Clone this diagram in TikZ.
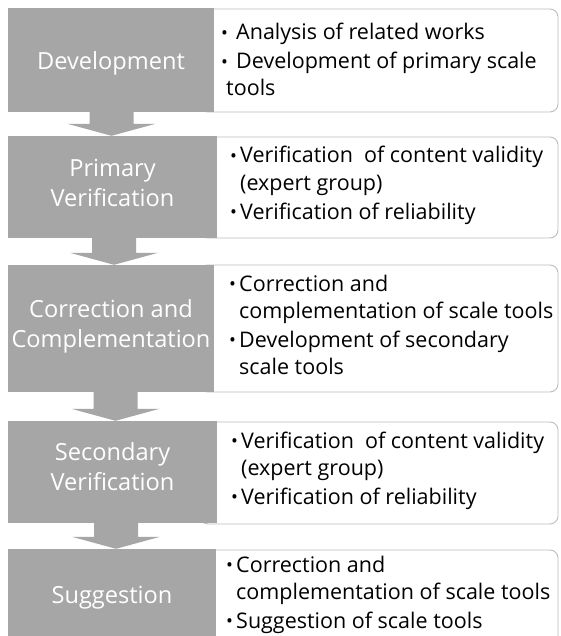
\documentclass[tikz,border=0pt]{standalone}
\usepackage{fontspec}
\setmainfont{Open Sans}
\usetikzlibrary{calc}
\definecolor{boxgray}{HTML}{A6A6A6}
\definecolor{edgegray}{HTML}{BDBDBD}
\newcommand\bul{\makebox[15pt][l]{\raisebox{0.5pt}{\scalebox{0.85}{•}}}}
\newcommand\bulw{\makebox[10pt][l]{\raisebox{0.5pt}{\scalebox{0.85}{•}}}}
% block arrow from box #1 to box #2, x offset #3
\newcommand\blockarrow[3]{%
  \fill[boxgray] let \p1=(#1.south), \p2=(#2.north) in
    (\x1+#3pt-22pt,\y1) -- (\x1+#3pt-22pt,\y2+12pt) -- (\x1+#3pt-44pt,\y2+12pt)
    -- (\x1+#3pt,\y2) -- (\x1+#3pt+44pt,\y2+12pt) -- (\x1+#3pt+22pt,\y2+12pt)
    -- (\x1+#3pt+22pt,\y1) -- cycle;}
\begin{document}
\begin{tikzpicture}[x=1pt,y=-1pt,
  graybox/.style={fill=boxgray, draw=none, inner sep=0},
  phasetext/.style={text=white, inner sep=0,
    font=\fontsize{23.6}{30}\selectfont, align=center},
  whitebox/.style={fill=white, draw=edgegray, line width=0.9pt, rounded corners=8pt,
    inner sep=0},
  desc/.style={text=black, font=\fontsize{21.5}{27}\selectfont, align=left,
    anchor=base west, inner sep=0}]
\useasboundingbox (0,0) rectangle (560,636);
\clip (0,0) rectangle (560,636);
\fill[white] (0,0) rectangle (560,636);

% white description boxes
\node[whitebox, minimum width=358pt, minimum height=103pt] (w1) at (379,60.5) {};
\node[whitebox, minimum width=358pt, minimum height=101pt] (w2) at (379,187.5) {};
\node[whitebox, minimum width=358pt, minimum height=127pt] (w3) at (379,328.5) {};
\node[whitebox, minimum width=358pt, minimum height=102pt] (w4) at (379,473) {};
\node[whitebox, minimum width=358pt, minimum height=100pt] (w5) at (379,600) {};

% gray phase boxes
\node[graybox, minimum width=206pt, minimum height=104pt] (g1) at (111,60) {};
\node[graybox, minimum width=209pt, minimum height=102pt] (g2) at (112.5,187) {};
\node[graybox, minimum width=206pt, minimum height=127pt] (g3) at (111,328.5) {};
\node[graybox, minimum width=209pt, minimum height=102pt] (g4) at (112.5,472) {};
\node[graybox, minimum width=208pt, minimum height=91pt] (g5) at (112,594.5) {};

\node[phasetext] (t1) at ($(g1.center)+(0,3)$) {Development};
\node[phasetext] (t2) at ($(g2.center)+(0,-4)$) {Primary\\Verification};
\node[phasetext] (t3) at ($(g3.center)+(0,-2)$) {Correction and\\Complementation};
\node[phasetext] (t4) at ($(g4.center)+(0,-5)$) {Secondary\\Verification};
\node[phasetext] (t5) at ($(g5.center)+(0,3)$) {Suggestion};

% arrows
\blockarrow{g1}{g2}{0.5}
\blockarrow{g2}{g3}{1.5}
\blockarrow{g3}{g4}{4.5}
\blockarrow{g4}{g5}{3.5}

% descriptions
\node[desc] (d1) at (221,96) {\bul Analysis of related works\\[2pt]
  \bul Development of primary scale\\\hspace*{5pt}tools};
\node[desc] (d2) at (230,219) {\bulw Verification\ \ of content validity\\
  \hspace*{10pt}(expert group)\\[2pt]\bulw Verification of reliability};
\node[desc] (d3) at (229,374) {\bulw Correction and\\
  \hspace*{10pt}complementation of scale tools\\[2pt]
  \bulw Development of secondary\\\hspace*{10pt}scale tools};
\node[desc] (d4) at (231,504) {\bulw Verification\ \ of content validity\\
  \hspace*{10pt}(expert group)\\[2pt]\bulw Verification of reliability};
\node[desc] (d5) at (226,628) {\bulw Correction and\\
  \hspace*{10pt}complementation of scale tools\\[2pt]\bulw Suggestion of scale tools};
\end{tikzpicture}
\end{document}
